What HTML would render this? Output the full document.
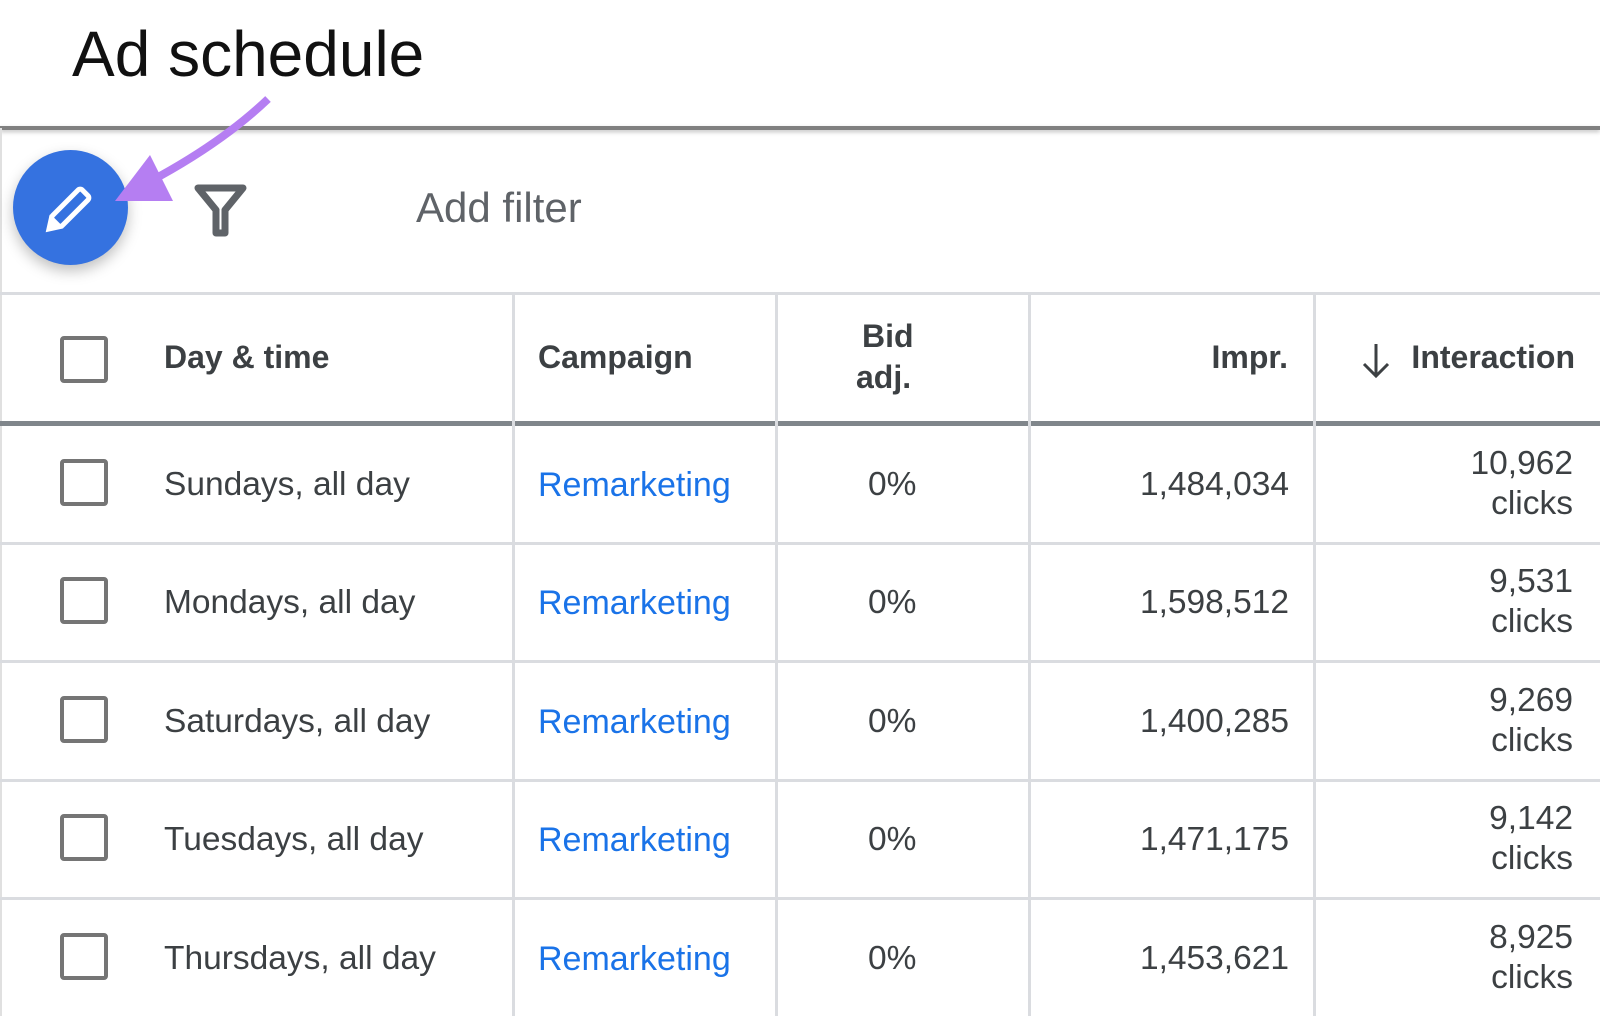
<!DOCTYPE html>
<html><head><meta charset="utf-8"><style>
body{margin:0;width:1600px;height:1016px;background:#fff;position:relative;overflow:hidden;font-family:"Liberation Sans",Arial,sans-serif;}
.a{position:absolute;white-space:nowrap}
.hl{position:absolute;left:0;width:1600px;background:#dadce0;height:3px}
.vl{position:absolute;width:3px;background:#dadce0}
.cb{position:absolute;left:60px;width:40px;height:39px;border:4px solid #757575;border-radius:4px;box-sizing:content-box}
.t{position:absolute;font-size:33.5px;color:#3c4043;white-space:nowrap}
.hd{position:absolute;font-size:32px;color:#3c4043;font-weight:bold}
</style></head><body>
<div class="a" style="left:72px;top:17px;font-size:64px;color:#111">Ad schedule</div>
<div style="position:absolute;left:0;top:126px;width:1600px;height:4px;background:#808080;box-shadow:0 2px 4px rgba(0,0,0,.25)"></div>
<div style="position:absolute;left:0;top:128px;width:2px;height:888px;background:#e0e0e0"></div>
<div style="position:absolute;left:13px;top:150px;width:115px;height:115px;border-radius:50%;background:#3572e0;box-shadow:0 6px 14px rgba(0,0,0,.25)"></div>
<svg style="position:absolute;left:0;top:0" width="600" height="300">
<g transform="translate(71,207) rotate(-45)"><rect x="-22" y="-7" width="42" height="14" rx="3" fill="none" stroke="#fff" stroke-width="5"/><path d="M-22 -7 L-33 0 L-22 7 Z" fill="#fff" stroke="#fff" stroke-width="3"/></g>
<path d="M198 188 L243 188 L225 210 L225 233 L216 233 L216 210 Z" fill="none" stroke="#5f6368" stroke-width="7" stroke-linejoin="round"/>
<path d="M268 99 Q225 140 160 176" fill="none" stroke="#b57ef2" stroke-width="8"/>
<polygon points="115,201 150,155 173,201" fill="#b57ef2"/>
</svg>
<div class="a" style="left:416px;top:184px;font-size:42px;color:#5f6368">Add filter</div>
<div class="hl" style="top:292px"></div>
<div style="position:absolute;left:0;top:421px;width:1600px;height:5px;background:#80868b"></div>
<div class="vl" style="left:512px;top:294px;height:722px"></div>
<div class="vl" style="left:775px;top:294px;height:722px"></div>
<div class="vl" style="left:1028px;top:294px;height:722px"></div>
<div class="vl" style="left:1313px;top:294px;height:722px"></div>
<div class="cb" style="top:336px"></div>
<div class="hd" style="left:164px;top:339px">Day &amp; time</div>
<div class="hd" style="left:538px;top:339px">Campaign</div>
<div class="hd" style="left:862px;top:318px">Bid</div>
<div class="hd" style="left:856px;top:359px">adj.</div>
<div class="hd" style="right:312px;top:339px">Impr.</div>
<div class="hd" style="right:25px;top:339px">Interaction</div>
<svg style="position:absolute;left:1358px;top:342px" width="36" height="40"><path d="M18 2 V34 M6 22 L18 34 L30 22" fill="none" stroke="#3c4043" stroke-width="3"/></svg>
<div class="hl" style="top:542px"></div>
<div class="hl" style="top:660px"></div>
<div class="hl" style="top:779px"></div>
<div class="hl" style="top:897px"></div>
<div id="rows"></div>
<script>
var d=[["Sundays, all day","1,484,034","10,962"],["Mondays, all day","1,598,512","9,531"],["Saturdays, all day","1,400,285","9,269"],["Tuesdays, all day","1,471,175","9,142"],["Thursdays, all day","1,453,621","8,925"]];
var h="";d.forEach(function(r,i){var c=424+i*118.4+59;
h+='<div class="cb" style="top:'+(c-24)+'px"></div>';
h+='<div class="t" style="left:164px;top:'+(c-17)+'px">'+r[0]+'</div>';
h+='<div class="t" style="left:538px;top:'+(c-17)+'px;color:#1a73e8;font-size:34px">Remarketing</div>';
h+='<div class="t" style="left:868px;top:'+(c-17)+'px">0%</div>';
h+='<div class="t" style="right:311px;top:'+(c-17)+'px">'+r[1]+'</div>';
h+='<div class="t" style="right:27px;top:'+(c-39)+'px;text-align:right;line-height:40px">'+r[2]+'<br>clicks</div>';});
document.getElementById("rows").innerHTML=h;
</script>
</body></html>
